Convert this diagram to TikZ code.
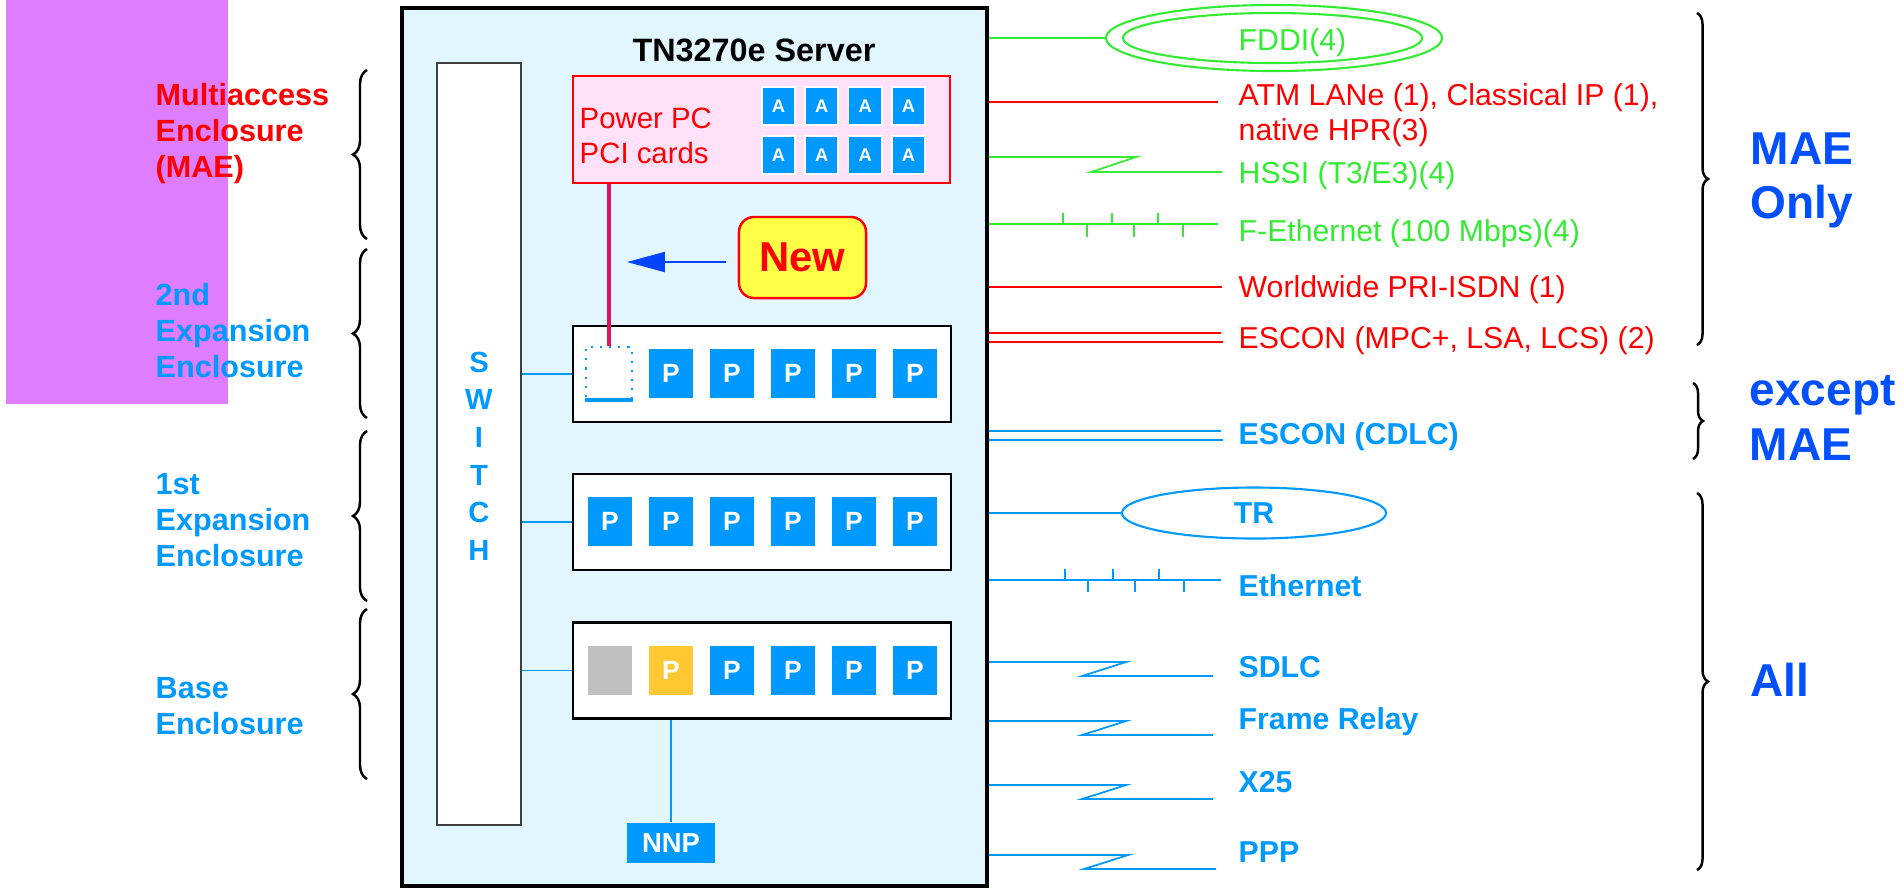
\documentclass[tikz,border=0pt]{standalone}
\usepackage{fontspec}
\setmainfont{Liberation Sans}
\usepackage{xcolor}
\definecolor{ColRed}{RGB}{255,0,0}
\definecolor{ColGreen}{RGB}{51,235,51}
\definecolor{ColBlue}{RGB}{0,153,255}
\definecolor{ColDeep}{RGB}{0,80,255}
\definecolor{ColSky}{RGB}{226,246,255}
\definecolor{ColPink}{RGB}{255,226,250}
\definecolor{ColLilac}{RGB}{222,125,253}
\definecolor{ColRose}{RGB}{220,20,100}
\definecolor{ColArrow}{RGB}{0,68,255}
\definecolor{ColYellow}{RGB}{255,255,72}
\definecolor{ColGold}{RGB}{255,200,50}
\definecolor{ColGrey}{RGB}{192,192,192}
\usepackage{tikz}
\usetikzlibrary{shapes.geometric}
\usetikzlibrary{decorations.pathreplacing}
\usetikzlibrary{arrows.meta}
\tikzstyle{Frame}=[draw=black,line width=1.1pt,fill=ColSky,inner sep=0pt]
\tikzstyle{Encl}=[draw=black,line width=0.6pt,fill=white,inner sep=0pt,
minimum width=3.78cm,minimum height=0.96cm]
\tikzstyle{Card}=[fill=ColBlue,text=white,inner sep=0pt,minimum width=0.44cm,
minimum height=0.49cm,font=\fontsize{7.5}{9}\selectfont\bfseries]
\tikzstyle{CardA}=[fill=ColBlue,draw=white,line width=0.5pt,text=white,inner sep=0pt,
minimum width=0.33cm,minimum height=0.38cm,font=\fontsize{5.2}{6}\selectfont\bfseries]
\tikzstyle{Wire}=[line width=0.5pt]
\tikzstyle{WireG}=[Wire,draw=ColGreen]
\tikzstyle{WireR}=[Wire,draw=ColRed]
\tikzstyle{WireB}=[Wire,draw=ColBlue]
\tikzstyle{Ring}=[ellipse,line width=0.6pt,inner sep=0pt]
\tikzstyle{Brace}=[draw=black,line width=0.7pt,decorate]
\tikzstyle{LabEncl}=[anchor=north west,inner sep=0pt,align=left,
font=\fontsize{8.7}{10.24}\selectfont\bfseries]
\tikzstyle{LabLink}=[anchor=base west,inner sep=0pt,font=\fontsize{8.6}{9.96}\selectfont]
\tikzstyle{LabLinkB}=[LabLink,font=\fontsize{8.6}{9.96}\selectfont\bfseries]
\tikzstyle{LabScope}=[inner sep=0pt,align=left,text=ColDeep,
font=\fontsize{13.1}{15.5}\selectfont\bfseries]

\begin{document}
\begin{tikzpicture}[x=0.01cm,y=-0.01cm]
    \useasboundingbox (0,0) rectangle (1904,890);
    \fill[ColLilac] (6,0) rectangle (228,404);
    % server frame
    \node[Frame,minimum width=5.85cm,minimum height=8.78cm](Srv)at(694.5,447){};
    \node[inner sep=0pt,font=\fontsize{9.2}{11}\selectfont\bfseries](Title)at(754,50.5){TN3270e Server};
    % switch
    \node[draw=black!75,line width=0.6pt,fill=white,inner sep=0pt,
        minimum width=0.84cm,minimum height=7.62cm](Sw)at(479,444){};
    \node[text=ColBlue,align=center,inner sep=0pt,
        font=\fontsize{8.3}{10.7}\selectfont\bfseries](SwTxt)at(479,456){S\\W\\I\\T\\C\\H};
    % power pc cards
    \node[draw=ColRed,line width=0.7pt,fill=ColPink,inner sep=0pt,
        minimum width=3.77cm,minimum height=1.07cm](Ppc)at(761.5,129.5){};
    \node[anchor=north west,inner sep=0pt,align=left,text=ColRed,
        font=\fontsize{8.35}{9.96}\selectfont](PpcTxt)at(579,107){Power PC\\PCI cards};
    \foreach \i in {0,...,3}{
        \node[CardA](A1\i)at(778.5+43.3*\i,106){A};
        \node[CardA](A2\i)at(778.5+43.3*\i,155){A};
    }
    % enclosures
    \node[Encl](E2)at(762,374){};
    \node[Encl](E1)at(762,522){};
    \node[Encl](E0)at(762,670.5){};
    \node[draw=ColBlue,dotted,line width=0.6pt,inner sep=0pt,
        minimum width=0.46cm,minimum height=0.52cm](Slot)at(609,373){};
    \draw[ColBlue,line width=1pt](Slot.south west)--(Slot.south east);
    \foreach \i in {1,...,5} \node[Card](P2\i)at(610+61*\i,373.5){P};
    \foreach \i in {0,...,5} \node[Card](P1\i)at(610+61*\i,521.5){P};
    \node[Card,fill=ColGrey](P00)at(610,670){};
    \node[Card,fill=ColGold](P01)at(671,670){P};
    \foreach \i in {2,...,5} \node[Card](P0\i)at(610+61*\i,670){P};
    \draw[WireB](Sw.east|-E2.west)--(E2.west);
    \draw[WireB](Sw.east|-E1.west)--(E1.west);
    \draw[WireB](Sw.east|-E0.west)--(E0.west);
    \draw[ColRose,line width=1.1pt](Slot.north|-Ppc.south)--(Slot.north);
    \node[Card,minimum width=0.88cm,minimum height=0.40cm,
        font=\fontsize{7.8}{9}\selectfont\bfseries](Nnp)at(671,843){NNP};
    \draw[WireB](Nnp.north)--(Nnp.north|-E0.south);
    % new
    \node[draw=ColRed,line width=0.7pt,fill=ColYellow,rounded corners=0.15cm,
        minimum width=1.27cm,minimum height=0.81cm,inner sep=0pt,text=ColRed,
        font=\fontsize{11.9}{13}\selectfont\bfseries](New)at(802.5,257.5){New};
    \coordinate(ArrTip)at(627,262);
    \draw[ColArrow,line width=0.6pt,-{Triangle[length=10.8pt,width=5.7pt]},
        shorten <=3.4pt](ArrTip-|New.west)--(ArrTip);
    % enclosure labels
    \node[LabEncl,text=ColRed](LMae)at(155,83){Multiaccess\\Enclosure\\(MAE)};
    \node[LabEncl,text=ColBlue](LExp2)at(155,283){2nd\\Expansion\\Enclosure};
    \node[LabEncl,text=ColBlue](LExp1)at(155,473){1st\\Expansion\\Enclosure};
    \node[LabEncl,text=ColBlue](LBase)at(155,677){Base\\Enclosure};
    \draw[Brace,decoration={brace,amplitude=0.14cm}](367,239)--(367,70);
    \draw[Brace,decoration={brace,amplitude=0.14cm}](367,418)--(367,249);
    \draw[Brace,decoration={brace,amplitude=0.14cm}](367,601)--(367,431);
    \draw[Brace,decoration={brace,amplitude=0.14cm}](367,779)--(367,609);
    % links
    \node[Ring,draw=ColGreen,minimum width=3.36cm,minimum height=0.66cm](FddiO)at(1274,38){};
    \node[Ring,draw=ColGreen,minimum width=2.99cm,minimum height=0.50cm](FddiI)at(1272.5,38){};
    \node[LabLink,text=ColGreen](Fddi)at(1238,50){FDDI(4)};
    \draw[WireG](FddiO.west-|Srv.east)--(FddiO.west);
    \node[LabLink,text=ColRed,anchor=north west,align=left](Atm)at(1238,83){ATM LANe (1), Classical IP (1),\\native HPR(3)};
    \coordinate(AtmE)at(1218,102);
    \draw[WireR](AtmE-|Srv.east)--(AtmE);
    \node[LabLink,text=ColGreen](Hssi)at(1238,183){HSSI (T3/E3)(4)};
    \coordinate(HssiE)at(1222,172);
    \draw[WireG](HssiE-|Srv.east)++(0,-15)--++(147,0)--++(-45,15)--(HssiE);
    \node[LabLink,text=ColGreen](FEth)at(1238,241){F-Ethernet (100 Mbps)(4)};
    \coordinate(FEthE)at(1218,224);
    \draw[WireG](FEthE-|Srv.east)--(FEthE);
    \foreach \x in {1063,1112,1158} \draw[WireG](\x,224)--++(0,-11);
    \foreach \x in {1087,1134,1183} \draw[WireG](\x,224)--++(0,13);
    \node[LabLink,text=ColRed](Isdn)at(1238,297){Worldwide PRI-ISDN (1)};
    \coordinate(IsdnE)at(1222,287);
    \draw[WireR](IsdnE-|Srv.east)--(IsdnE);
    \node[LabLink,text=ColRed](EscR)at(1238,348){ESCON (MPC+, LSA, LCS) (2)};
    \coordinate(EscRE)at(1221,333);
    \draw[WireR](EscRE-|Srv.east)--(EscRE);
    \draw[WireR](EscRE-|Srv.east)++(0,9)--++(234,0);
    \node[LabLinkB,text=ColBlue](EscB)at(1238,444){ESCON (CDLC)};
    \coordinate(EscBE)at(1221,431);
    \draw[WireB](EscBE-|Srv.east)--(EscBE);
    \draw[WireB](EscBE-|Srv.east)++(0,9)--++(234,0);
    \node[Ring,draw=ColBlue,text=ColBlue,minimum width=2.64cm,minimum height=0.51cm,
        font=\fontsize{8.6}{9.96}\selectfont\bfseries](Tr)at(1254,513){TR};
    \draw[WireB](Tr.west-|Srv.east)--(Tr.west);
    \node[LabLinkB,text=ColBlue](Eth)at(1238,596){Ethernet};
    \coordinate(EthE)at(1221,580);
    \draw[WireB](EthE-|Srv.east)--(EthE);
    \foreach \x in {1065,1113,1159} \draw[WireB](\x,580)--++(0,-11);
    \foreach \x in {1088,1135,1184} \draw[WireB](\x,580)--++(0,12);
    \node[LabLinkB,text=ColBlue](Sdlc)at(1238,677){SDLC};
    \coordinate(SdlcE)at(1213,676);
    \draw[WireB](SdlcE-|Srv.east)++(0,-14)--++(137,0)--++(-44,14)--(SdlcE);
    \node[LabLinkB,text=ColBlue](Fr)at(1238,729){Frame Relay};
    \coordinate(FrE)at(1213,735);
    \draw[WireB](FrE-|Srv.east)++(0,-14)--++(137,0)--++(-44,14)--(FrE);
    \node[LabLinkB,text=ColBlue](Xtf)at(1238,792){X25};
    \coordinate(XtfE)at(1213,799);
    \draw[WireB](XtfE-|Srv.east)++(0,-14)--++(137,0)--++(-44,14)--(XtfE);
    \node[LabLinkB,text=ColBlue](Ppp)at(1238,862){PPP};
    \coordinate(PppE)at(1216,869);
    \draw[WireB](PppE-|Srv.east)++(0,-14)--++(139,0)--++(-44,14)--(PppE);
    % scope labels
    \node[LabScope,anchor=north west](SMae)at(1750,132){MAE\\Only};
    \node[LabScope,anchor=north west](SExc)at(1749,375){except\\MAE};
    \node[LabScope,anchor=base west](SAll)at(1750,696){All};
    \draw[Brace,decoration={brace,amplitude=0.11cm}](1697,13)--(1697,345);
    \draw[Brace,decoration={brace,amplitude=0.10cm}](1693,383)--(1693,459);
    \draw[Brace,decoration={brace,amplitude=0.11cm}](1697,493)--(1697,870);
\end{tikzpicture}
\end{document}
